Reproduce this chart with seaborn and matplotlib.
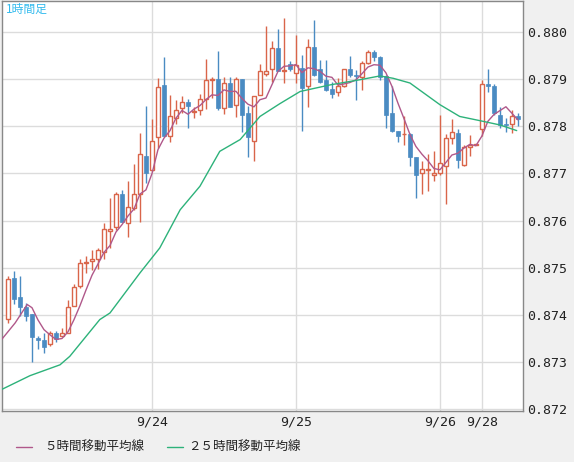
import numpy as np
import pandas as pd
import matplotlib
matplotlib.use("Agg")
import matplotlib.pyplot as plt
import seaborn as sns

sns.set_style("white")
plt.rcParams['font.family'] = ['Noto Sans CJK JP', 'DejaVu Sans']

opens = [.87392,.87479,.87438,.87417,.87401,.87351,.87347,.87338,.87362,.87355,
         .87362,.87418,.87461,.87511,.87514,.87518,.87533,.87578,.87587,.87657,
         .87595,.87627,.87657,.87738,.87707,.87777,.87888,.87780,.87818,.87838,
         .87851,.87831,.87834,.87858,.87899,.87900,.87838,.87892,.87846,.87900,
         .87828,.87768,.87867,.87912,.87921,.87966,.87918,.87932,.87914,.87924,
         .87885,.87968,.87922,.87899,.87879,.87872,.87886,.87922,.87910,.87905,
         .87934,.87957,.87947,.87907,.87828,.87791,.87783,.87784,.87735,.87701,
         .87707,.87697,.87700,.87715,.87775,.87786,.87719,.87756,.87760,.87794,
         .87890,.87886,.87825,.87804,.87806,.87823]
closes = [.87476,.87434,.87417,.87397,.87352,.87346,.87331,.87362,.87348,.87362,
          .87417,.87460,.87511,.87513,.87519,.87537,.87583,.87583,.87657,.87597,
          .87629,.87657,.87742,.87701,.87769,.87884,.87779,.87821,.87834,.87851,
          .87844,.87833,.87858,.87898,.87901,.87838,.87892,.87841,.87900,.87825,
          .87777,.87864,.87917,.87918,.87966,.87917,.87919,.87922,.87931,.87881,
          .87968,.87910,.87895,.87878,.87869,.87886,.87922,.87910,.87906,.87934,
          .87957,.87947,.87905,.87825,.87791,.87779,.87784,.87736,.87697,.87709,
          .87709,.87702,.87722,.87775,.87788,.87728,.87757,.87761,.87761,.87890,
          .87885,.87828,.87803,.87802,.87821,.87815]
highs = [.87483,.87493,.87483,.87426,.87401,.87356,.87361,.87365,.87365,.87372,
         .87432,.87465,.87518,.87525,.87537,.87542,.87594,.87648,.87660,.87666,
         .87683,.87721,.87786,.87843,.87815,.87903,.87947,.87867,.87855,.87864,
         .87858,.87842,.87869,.87943,.87904,.87959,.87904,.87904,.87904,.87900,
         .87844,.87864,.87933,.88013,.87982,.88006,.88030,.87938,.87994,.87952,
         .87985,.88026,.87941,.87941,.87895,.87902,.87922,.87950,.87919,.87938,
         .87963,.87963,.87950,.87910,.87885,.87791,.87823,.87786,.87735,.87726,
         .87742,.87747,.87825,.87784,.87815,.87794,.87761,.87782,.87761,.87899,
         .87922,.87890,.87842,.87818,.87835,.87828]
lows = [.87382,.87422,.87397,.87387,.87299,.87328,.87320,.87333,.87342,.87355,
        .87362,.87418,.87457,.87489,.87495,.87497,.87519,.87542,.87581,.87597,
        .87566,.87623,.87597,.87680,.87705,.87754,.87779,.87766,.87804,.87828,
        .87797,.87818,.87825,.87836,.87860,.87835,.87826,.87841,.87820,.87789,
        .87735,.87726,.87867,.87907,.87895,.87917,.87892,.87918,.87892,.87791,
        .87842,.87907,.87892,.87874,.87860,.87865,.87883,.87905,.87855,.87878,
        .87933,.87938,.87899,.87796,.87789,.87766,.87761,.87715,.87647,.87656,
        .87662,.87685,.87697,.87635,.87763,.87712,.87715,.87738,.87760,.87780,
        .87872,.87825,.87796,.87789,.87786,.87800]

ma5_head_idx = [-1.3, 1.2, 3.2]
ma5_head_vals = [.87344, .87383, .87422]
ma25_idx = [-1.33, 3.67, 8.67, 10.3, 15.3, 17, 22, 25.3, 28.7, 32, 35.3, 38.7, 42,
            45.3, 48.7, 53.7, 58.7, 62, 64.2, 67, 72, 75.3, 78.7, 82, 84.8]
ma25_vals = [.87240, .87271, .87294, .87312, .87390, .87404, .87489, .87542, .87623,
             .87673, .87747, .87772, .87821, .87848, .87874, .87888, .87899, .87907,
             .87902, .87892, .87846, .87821, .87812, .87803, .87791]

date_labels = ["9/24", "9/25", "9/26", "9/28"]
date_idx = [24, 48, 72, 79]
yticks = [0.872, 0.873, 0.874, 0.875, 0.876, 0.877, 0.878, 0.879, 0.880]

RED = "#d9654a"
BLUE = "#4a8bc2"
C5 = "#b0588a"
C25 = "#2db27a"

fig = plt.figure(figsize=(5.74, 4.62), dpi=100, facecolor="#f0f0f0")
ax = fig.add_axes([2/574, 51/462, 521/574, 410/462])
ax.set_facecolor("white")

idx = np.arange(len(opens))
o = np.array(opens); c = np.array(closes)
up = c >= o
for k in idx:
    col = RED if up[k] else BLUE
    ax.vlines(k, lows[k], highs[k], color=col, lw=1.0, zorder=3)
    bot = min(o[k], c[k]); h = max(abs(c[k]-o[k]), 0.000015)
    if up[k]:
        ax.bar(k, h, bottom=bot, width=0.62, facecolor="white", edgecolor=RED, lw=1.0, zorder=4)
    else:
        ax.bar(k, h, bottom=bot, width=0.7, facecolor=BLUE, edgecolor=BLUE, lw=0.5, zorder=4)

ma5 = pd.Series(closes).rolling(5).mean()
df5 = pd.DataFrame({"x": list(ma5_head_idx) + list(idx[4:]),
                    "y": list(ma5_head_vals) + list(ma5[4:])})
sns.lineplot(data=df5, x="x", y="y", color=C5, lw=1.0, ax=ax, zorder=5, sort=False)
df25 = pd.DataFrame({"x": ma25_idx, "y": ma25_vals})
sns.lineplot(data=df25, x="x", y="y", color=C25, lw=1.0, ax=ax, zorder=5, sort=False)

ax.set_xlim(-1.0, 85.85)
ax.set_ylim(0.87196, 0.88066)
ax.set_yticks(yticks)
ax.set_yticklabels([f"{v:.3f}" for v in yticks], family="DejaVu Sans Mono", fontsize=9.5)
ax.yaxis.tick_right()
ax.set_xticks(date_idx)
ax.set_xticklabels(date_labels, family="DejaVu Sans Mono", fontsize=9.5)
ax.tick_params(length=0, pad=3, colors="#222222")
ax.grid(True, color="#dcdcdc", lw=1.0, zorder=0)
ax.set_axisbelow(True)
ax.set_xlabel(""); ax.set_ylabel("")
for s in ax.spines.values():
    s.set_color("#888888"); s.set_linewidth(1.0)

ax.text(0.008, 0.995, "1時間足", transform=ax.transAxes, va="top", ha="left",
        color="#33bbee", fontsize=8.5)

fig.lines.append(plt.Line2D([16/574, 32/574], [1-447/462]*2, color=C5, lw=1, transform=fig.transFigure))
fig.text(44/574, 1-447/462, "５時間移動平均線", va="center", fontsize=9, color="#222222")
fig.lines.append(plt.Line2D([167/574, 183/574], [1-447/462]*2, color=C25, lw=1, transform=fig.transFigure))
fig.text(188/574, 1-447/462, "２５時間移動平均線", va="center", fontsize=9, color="#222222")

fig.savefig("out.png", dpi=100, facecolor=fig.get_facecolor())
